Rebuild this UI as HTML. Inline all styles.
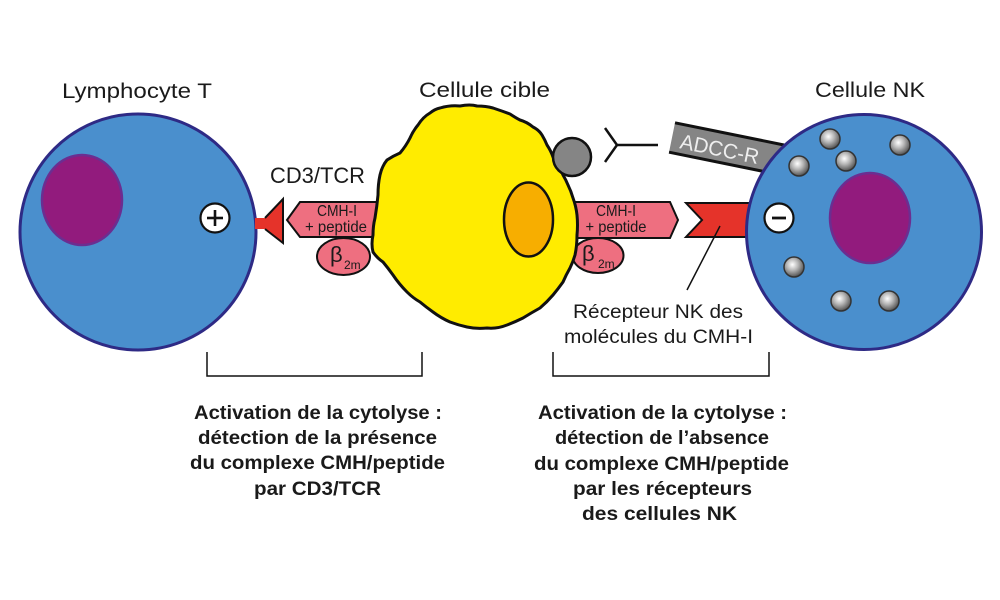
<!DOCTYPE html>
<html>
<head>
<meta charset="utf-8">
<style>
  html,body{margin:0;padding:0;background:#fff;}
  svg{display:block;}
  text{font-family:"Liberation Sans", "DejaVu Sans", sans-serif;}
</style>
</head>
<body>
<svg width="1000" height="600" viewBox="0 0 1000 600" xmlns="http://www.w3.org/2000/svg">
  <defs>
    <radialGradient id="gran" cx="0.42" cy="0.38" r="0.65">
      <stop offset="0" stop-color="#ffffff"/>
      <stop offset="0.45" stop-color="#b5b5b5"/>
      <stop offset="1" stop-color="#4a4a4a"/>
    </radialGradient>
  </defs>

  <!-- Titles -->
  <text x="62" y="98" font-size="21" fill="#1a1a1a" textLength="150" lengthAdjust="spacingAndGlyphs">Lymphocyte T</text>
  <text x="419" y="97" font-size="21" fill="#1a1a1a" textLength="131" lengthAdjust="spacingAndGlyphs">Cellule cible</text>
  <text x="815" y="97" font-size="21" fill="#1a1a1a" textLength="110" lengthAdjust="spacingAndGlyphs">Cellule NK</text>
  <text x="270" y="183" font-size="22" fill="#1a1a1a" textLength="95" lengthAdjust="spacingAndGlyphs">CD3/TCR</text>

  <!-- Left T cell -->
  <circle cx="138" cy="232" r="118" fill="#4a8fcd" stroke="#2e2a85" stroke-width="3"/>
  <ellipse cx="82" cy="200" rx="40" ry="45" fill="#921b7d" stroke="#6b2e91" stroke-width="2.5"/>
  <circle cx="215" cy="218" r="14.5" fill="#fff" stroke="#111" stroke-width="2.2"/>
  <line x1="207" y1="218" x2="223" y2="218" stroke="#111" stroke-width="2.6"/>
  <line x1="215" y1="210" x2="215" y2="226" stroke="#111" stroke-width="2.6"/>

  <!-- TCR red triangle -->
  <polygon points="255,218 265,218 283,199 283,243 265,229 255,229" fill="#e5332a"/>
  <polyline points="265,218 283,199 283,243 265,229" fill="none" stroke="#111" stroke-width="2"/>

  <!-- Left CMH-I pentagon -->
  <polygon points="287,220 300,202 395,202 395,237 300,237" fill="#ee6f80" stroke="#111" stroke-width="2"/>
  <text x="337" y="216" font-size="16" text-anchor="middle" fill="#1a1a1a" textLength="40" lengthAdjust="spacingAndGlyphs">CMH-I</text>
  <text x="336" y="232" font-size="16" text-anchor="middle" fill="#1a1a1a" textLength="62" lengthAdjust="spacingAndGlyphs">+ peptide</text>
  <!-- Left b2m -->
  <ellipse cx="343.5" cy="256.5" rx="26.5" ry="18.5" fill="#ee6f80" stroke="#111" stroke-width="2"/>
  <text x="330" y="262" font-size="22" fill="#1a1a1a">β</text>
  <text x="344" y="269" font-size="12" fill="#1a1a1a">2m</text>

  <!-- Right CMH-I pentagon -->
  <polygon points="560,202 670,202 678,220 670,238 560,238" fill="#ee6f80" stroke="#111" stroke-width="2"/>
  <text x="616" y="216" font-size="16" text-anchor="middle" fill="#1a1a1a" textLength="40" lengthAdjust="spacingAndGlyphs">CMH-I</text>
  <text x="616" y="232" font-size="16" text-anchor="middle" fill="#1a1a1a" textLength="61" lengthAdjust="spacingAndGlyphs">+ peptide</text>
  <!-- Right b2m -->
  <ellipse cx="598" cy="255.5" rx="25.5" ry="17.5" fill="#ee6f80" stroke="#111" stroke-width="2"/>
  <text x="582" y="261" font-size="22" fill="#1a1a1a">β</text>
  <text x="598" y="268" font-size="12" fill="#1a1a1a">2m</text>

  <!-- Yellow target cell -->
  <path d="M440,108 Q450,105 460,106 Q470,104 477,106 Q486,106 493,108 Q502,111 510,114 Q516,118 520,120 Q527,122 533,127 Q539,130 542,135 Q545,140 547,145 Q551,151 553,157 Q555,161 557,165 Q561,170 563,175 Q566,180 568,185 Q571,191 573,198 Q576,206 577,215 Q578,225 577,235 Q577,246 575,255 Q573,262 570,268 Q566,275 563,282 Q558,289 553,295 Q547,302 540,308 Q531,313 523,318 Q515,322 507,325 Q497,329 487,328 Q476,329 467,327 Q458,325 450,322 Q441,318 433,312 Q426,307 420,302 Q413,298 407,292 Q399,284 393,275 Q388,268 383,262 Q377,258 373,252 Q371,244 373,235 Q373,226 375,218 Q377,206 378,195 Q378,184 380,175 Q382,166 387,160 Q393,156 400,153 Q406,146 410,138 Q413,131 418,125 Q423,117 430,113 Q435,109 440,108 Z"
        fill="#ffec00" stroke="#111" stroke-width="3" stroke-linejoin="round"/>
  <ellipse cx="528.5" cy="219.5" rx="24.5" ry="37" fill="#f7ae00" stroke="#111" stroke-width="2.5"/>
  <!-- antigen grey circle -->
  <circle cx="572" cy="157" r="19" fill="#858585" stroke="#111" stroke-width="2.5"/>

  <!-- Antibody Y -->
  <polyline points="605,128 617,145 605,162" fill="none" stroke="#111" stroke-width="2.5"/>
  <line x1="617" y1="145" x2="658" y2="145" stroke="#111" stroke-width="2.5"/>

  <!-- ADCC-R bar -->
  <g transform="translate(676,123) rotate(11.5)">
    <rect x="-1" y="0" width="115" height="30" fill="#858585"/>
    <line x1="-1" y1="0" x2="114" y2="0" stroke="#111" stroke-width="3"/>
    <line x1="-1" y1="30" x2="114" y2="30" stroke="#111" stroke-width="3"/>
    <text x="8" y="24" font-size="21" fill="#eeeeee" textLength="80" lengthAdjust="spacingAndGlyphs">ADCC-R</text>
  </g>

  <!-- NK receptor red chevron -->
  <polygon points="686,203 760,203 760,237 686,237 702,220" fill="#e5332a"/>
  <polyline points="760,203 686,203 702,220 686,237 760,237" fill="none" stroke="#111" stroke-width="2"/>

  <!-- NK cell -->
  <circle cx="864" cy="232" r="117.5" fill="#4a8fcd" stroke="#2e2a85" stroke-width="3"/>

  <ellipse cx="870" cy="218" rx="40" ry="45" fill="#921b7d" stroke="#6b2e91" stroke-width="2.5"/>
  <circle cx="779" cy="218" r="14.5" fill="#fff" stroke="#111" stroke-width="2.2"/>
  <line x1="772" y1="218" x2="786" y2="218" stroke="#111" stroke-width="2.8"/>

  <!-- granules -->
  <g stroke="#333" stroke-width="1.5" fill="url(#gran)">
    <circle cx="830" cy="139" r="10"/>
    <circle cx="900" cy="145" r="10"/>
    <circle cx="846" cy="161" r="10"/>
    <circle cx="799" cy="166" r="10"/>
    <circle cx="794" cy="267" r="10"/>
    <circle cx="841" cy="301" r="10"/>
    <circle cx="889" cy="301" r="10"/>
  </g>

  <!-- pointer line -->
  <line x1="720" y1="226" x2="687" y2="290" stroke="#111" stroke-width="1.5"/>
  <text x="573" y="318" font-size="19" fill="#1a1a1a" textLength="170" lengthAdjust="spacingAndGlyphs">Récepteur NK des</text>
  <text x="564" y="343" font-size="19" fill="#1a1a1a" textLength="189" lengthAdjust="spacingAndGlyphs">molécules du CMH-I</text>

  <!-- Brackets -->
  <polyline points="207,352 207,376 422,376 422,352" fill="none" stroke="#111" stroke-width="1.5"/>
  <polyline points="553,352 553,376 769,376 769,352" fill="none" stroke="#111" stroke-width="1.5"/>

  <!-- Left caption -->
  <g font-size="19" font-weight="bold" fill="#1a1a1a">
    <text x="194" y="419" textLength="248" lengthAdjust="spacingAndGlyphs">Activation de la cytolyse :</text>
    <text x="198" y="444" textLength="239" lengthAdjust="spacingAndGlyphs">détection de la présence</text>
    <text x="190" y="469" textLength="255" lengthAdjust="spacingAndGlyphs">du complexe CMH/peptide</text>
    <text x="254" y="495" textLength="127" lengthAdjust="spacingAndGlyphs">par CD3/TCR</text>
  </g>

  <!-- Right caption -->
  <g font-size="19" font-weight="bold" fill="#1a1a1a">
    <text x="538" y="419" textLength="249" lengthAdjust="spacingAndGlyphs">Activation de la cytolyse :</text>
    <text x="555" y="444" textLength="214" lengthAdjust="spacingAndGlyphs">détection de l’absence</text>
    <text x="534" y="470" textLength="255" lengthAdjust="spacingAndGlyphs">du complexe CMH/peptide</text>
    <text x="573" y="495" textLength="179" lengthAdjust="spacingAndGlyphs">par les récepteurs</text>
    <text x="582" y="520" textLength="155" lengthAdjust="spacingAndGlyphs">des cellules NK</text>
  </g>
</svg>
</body>
</html>
